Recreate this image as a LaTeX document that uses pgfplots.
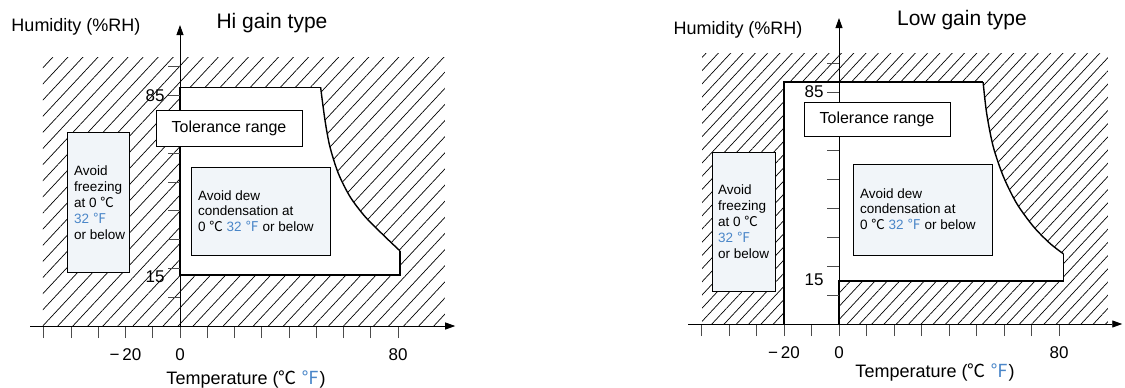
\documentclass[border=0pt]{standalone}
\usepackage{fontspec}
\setmainfont{Liberation Sans}
\newfontfamily\cjk{Noto Sans CJK JP}
\usepackage{pgfplots}
\pgfplotsset{compat=1.18}
\usetikzlibrary{patterns.meta,arrows.meta}
\definecolor{fblue}{HTML}{4A86C8}
\definecolor{boxfill}{HTML}{F1F5F9}
\newcommand{\dC}{{\cjk ℃}}
\newcommand{\dF}{{\cjk ℉}}
\pgfplotsset{
  chart/.style={
    scale only axis, anchor=origin,
    axis lines=middle, axis on top, clip=false,
    hide obscured x ticks=false, hide obscured y ticks=false,
    axis line style={line width=0.9pt},
    every inner x axis line/.append style={-{Triangle[length=10pt,width=7pt]}},
    every inner y axis line/.append style={-{Triangle[length=10pt,width=7pt]}},
    xtick={-50,-40,...,80},
    xticklabels={,,,{−\,20},,0,,,,,,,,80},
    ytick={10,20,...,90},
    yticklabels={,,,,,,,85,},
    extra y tick labels={15},
    extra y tick style={major tick style={draw=none}},
    xtick align=outside, ytick align=outside,
    major tick length=12pt,
    major tick style={line width=0.8pt, black!70},
    ticklabel style={font=\fontsize{17}{19}\selectfont},
    xticklabel shift=7pt,
  },
  hatch/.style={draw=none, pattern={Lines[angle=47,distance=#1,line width=0.7pt]}},
  tol/.style={black, line width=1.4pt, line join=miter},
}
\begin{document}
\begin{tikzpicture}
\useasboundingbox (0,0) rectangle (1125pt,-388pt);
% ---------------- left: Hi gain type
\begin{axis}[chart, at={(180pt,-326pt)}, x=2.725pt, y=2.88pt,
  xmin=-55, xmax=101, ymin=0, ymax=104.5, extra y ticks={17}]
\addplot[hatch=11pt] coordinates {(-50.3,0) (97.2,0) (97.2,93.4) (-50.3,93.4)} -- cycle;
\addplot[fill=white, draw=none] coordinates {(0,17.7) (0,82.9) (51.6,82.9) (53.2,71.5) (55.0,62.3) (58.1,53) (62.4,44.9) (67.9,38) (74.6,31.6) (80.7,26.1) (80.7,17.7)} -- cycle;
\addplot[tol] coordinates {(51.6,82.9) (0,82.9) (0,17.7) (80.7,17.7) (80.7,26.1)};
\addplot[tol, smooth] coordinates {(51.6,82.9) (53.2,71.5) (55.0,62.3) (58.1,53) (62.4,44.9) (67.9,38) (74.6,31.6) (80.7,26.1)};
\end{axis}
% ---------------- right: Low gain type
\begin{axis}[chart, at={(839pt,-324pt)}, x=2.75pt, y=2.9pt,
  xmin=-54.9, xmax=103, ymin=0, ymax=105.5, extra y ticks={15.2}]
\addplot[hatch=9pt] coordinates {(-49.8,0) (97.8,0) (97.8,93.4) (-49.8,93.4)} -- cycle;
\addplot[fill=white, draw=none] coordinates {(-20,0) (-20,83.4) (52.4,83.4) (53.7,72.6) (56.1,61.1) (59.8,50.8) (64.6,41.6) (70.7,33.6) (76.7,27.8) (81.6,24.2) (81.6,14.8) (0,14.8) (0,0)} -- cycle;
\addplot[tol] coordinates {(52.4,83.4) (-20,83.4) (-20,0)};
\addplot[tol] coordinates {(0,0) (0,14.8) (81.6,14.8) (81.6,24.2)};
\addplot[tol, smooth] coordinates {(52.4,83.4) (53.7,72.6) (56.1,61.1) (59.8,50.8) (64.6,41.6) (70.7,33.6) (76.7,27.8) (81.6,24.2)};
\end{axis}
% ---------------- annotations left
\node[font=\fontsize{21}{23}\selectfont] at (272pt,-23pt) {Hi gain type};
\node[font=\fontsize{18}{20}\selectfont] at (76pt,-27pt) {Humidity (\%RH)};
\node[font=\fontsize{18}{20}\selectfont] at (246pt,-379pt) {Temperature (\dC\ \textcolor{fblue}{\dF})};
\draw[line width=1pt, fill=white] (156pt,-110pt) rectangle (302pt,-146pt);
\node[font=\fontsize{16}{18}\selectfont] at (229pt,-128pt) {Tolerance range};
\draw[line width=0.9pt, fill=boxfill] (191pt,-167pt) rectangle (330pt,-255pt);
\node[anchor=west, align=left, inner sep=0pt, font=\fontsize{13.5}{15.5}\selectfont] at (198pt,-211pt) {Avoid dew\\condensation at\\0 \dC\ \textcolor{fblue}{32 \dF} or below};
\draw[line width=0.9pt, fill=boxfill] (67pt,-132pt) rectangle (129pt,-272pt);
\node[anchor=west, align=left, inner sep=0pt, font=\fontsize{13.5}{16}\selectfont] at (74pt,-203pt) {Avoid\\freezing\\at 0 \dC\\\textcolor{fblue}{32 \dF}\\or below};
% ---------------- annotations right
\node[font=\fontsize{21}{23}\selectfont] at (962pt,-20pt) {Low gain type};
\node[font=\fontsize{18}{20}\selectfont] at (738pt,-30pt) {Humidity (\%RH)};
\node[font=\fontsize{18}{20}\selectfont] at (935pt,-372pt) {Temperature (\dC\ \textcolor{fblue}{\dF})};
\draw[line width=1pt, fill=white] (804pt,-102pt) rectangle (950pt,-136pt);
\node[font=\fontsize{16}{18}\selectfont] at (877pt,-119pt) {Tolerance range};
\draw[line width=0.9pt, fill=boxfill] (853pt,-164pt) rectangle (992pt,-255pt);
\node[anchor=west, align=left, inner sep=0pt, font=\fontsize{13.5}{15.5}\selectfont] at (860pt,-209pt) {Avoid dew\\condensation at\\0 \dC\ \textcolor{fblue}{32 \dF} or below};
\draw[line width=0.9pt, fill=boxfill] (712pt,-152pt) rectangle (775pt,-291pt);
\node[anchor=west, align=left, inner sep=0pt, font=\fontsize{13.5}{16}\selectfont] at (718pt,-222pt) {Avoid\\freezing\\at 0 \dC\\\textcolor{fblue}{32 \dF}\\or below};
\end{tikzpicture}
\end{document}
